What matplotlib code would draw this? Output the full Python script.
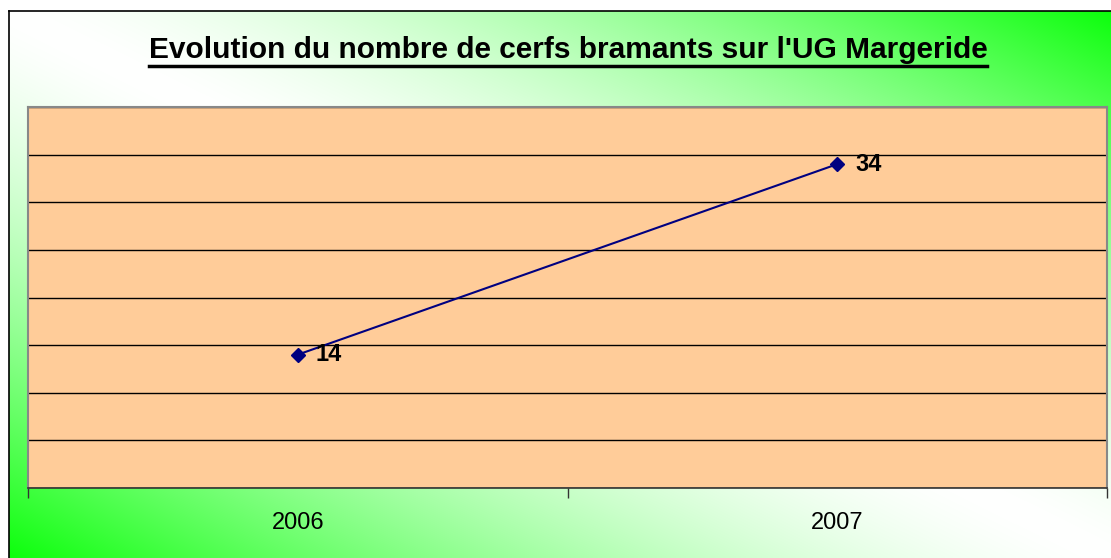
import numpy as np
import matplotlib
matplotlib.use('Agg')
import matplotlib.pyplot as plt
from matplotlib.lines import Line2D

plt.rcParams['font.family'] = ['Liberation Sans', 'DejaVu Sans']

# data
years = ['2006', '2007']
cerfs = [14, 34]

W, H = 1111, 558
fig = plt.figure(figsize=(W / 100, H / 100), dpi=100)
fig.patch.set_facecolor('white')

# gradient background (green corners, white diagonal)
bg = fig.add_axes([9 / W, 0, (W - 9) / W, (H - 11) / H], zorder=0)
gx, gy = np.meshgrid(np.linspace(0, 1, 400), np.linspace(1, 0, 200))
t = np.abs(gx + gy - 1)
t = np.clip(t, 0, 1) ** 1.5
white = np.array([1.0, 1.0, 1.0])
green = np.array([0.05, 1.0, 0.05])
img = white[None, None, :] * (1 - t[..., None]) + green[None, None, :] * t[..., None]
bg.imshow(img, aspect='auto', extent=(0, 1, 0, 1), interpolation='bilinear')
bg.set_xlim(0, 1)
bg.set_ylim(0, 1)
bg.set_xticks([])
bg.set_yticks([])
for s in ['right', 'bottom']:
    bg.spines[s].set_visible(False)
for s in ['left', 'top']:
    bg.spines[s].set_color('black')
    bg.spines[s].set_linewidth(1.2)

# plot area
ax = fig.add_axes([28 / W, (H - 488) / H, (1107 - 28) / W, (488 - 107) / H], zorder=2)
ax.set_facecolor('#FFCC99')
x = np.arange(len(years))
ax.plot(x, cerfs, color='#000080', linewidth=1.5, marker='D', markersize=7,
        markerfacecolor='#000080', markeredgecolor='#000080', zorder=3)
for xi, v in zip(x, cerfs):
    ax.annotate(str(v), (xi, v), xytext=(13, 0), textcoords='offset points',
                ha='left', va='center', fontsize=17, fontweight='bold', zorder=4)

ax.set_xlim(-0.5, 1.5)
ax.set_ylim(0, 40)
ax.set_yticks(np.arange(0, 41, 5))
ax.set_yticklabels([])
ax.tick_params(axis='y', length=0)
ax.yaxis.grid(True, color='black', linewidth=1)
ax.set_axisbelow(True)
ax.set_xticks([-0.5, 0.5, 1.5])
ax.set_xticklabels([])
ax.set_xticks(x, minor=True)
ax.set_xticklabels(years, minor=True, fontsize=17)
ax.tick_params(axis='x', which='major', length=7, width=1, color='#333333', direction='out')
ax.tick_params(axis='x', which='minor', length=0, pad=17)
for s in ['left', 'top', 'right']:
    ax.spines[s].set_color('#888888')
    ax.spines[s].set_linewidth(1.5)
ax.spines['bottom'].set_color('#333333')
ax.spines['bottom'].set_linewidth(1.2)

# title with underline
title = fig.text(568 / W, (H - 50) / H, "Evolution du nombre de cerfs bramants sur l'UG Margeride",
                 ha='center', va='center', fontsize=21.5, fontweight='bold', zorder=5)
fig.canvas.draw()
bb = title.get_window_extent()
uy = (H - 66) / H
fig.add_artist(Line2D([bb.x0 / W, bb.x1 / W], [uy, uy], color='black', linewidth=2.5,
                      transform=fig.transFigure, zorder=5))

fig.savefig('out.png', dpi=100)
